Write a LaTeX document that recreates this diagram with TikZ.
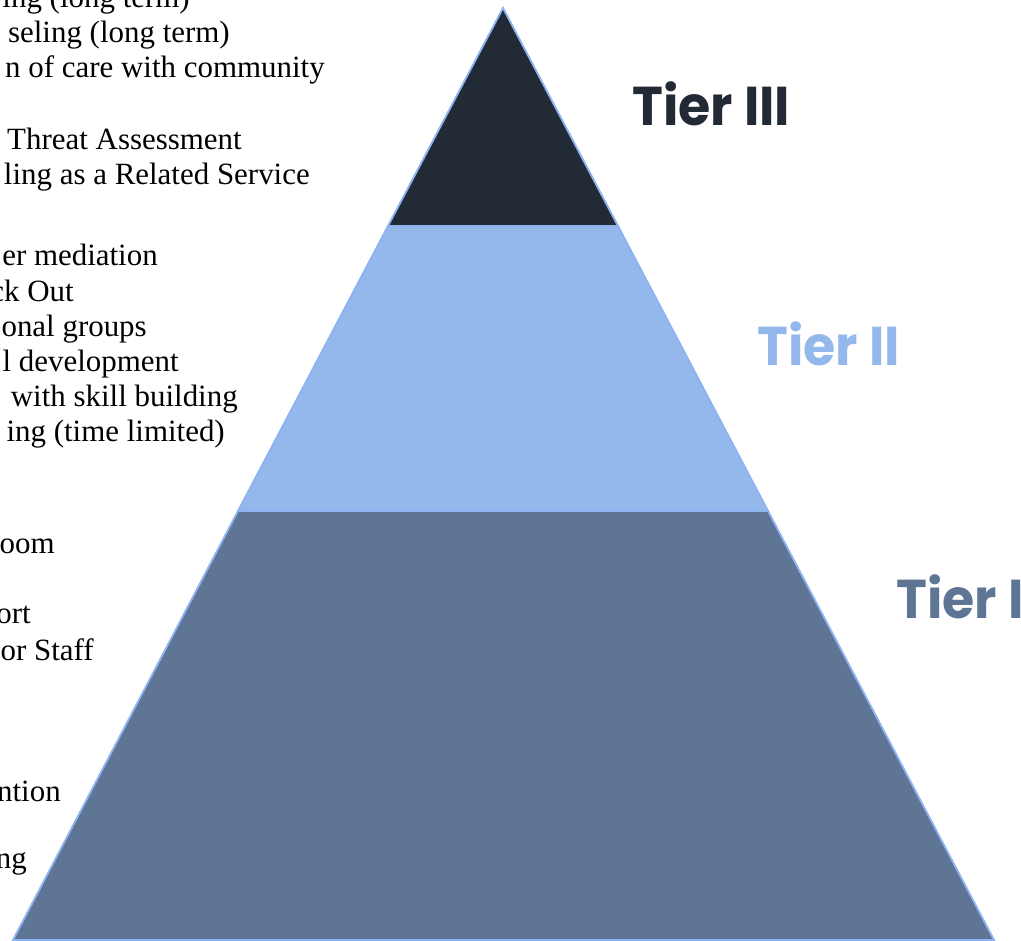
\documentclass[tikz,border=0pt]{standalone}
\usepackage{fontspec}
\setmainfont{Liberation Serif}
\newfontfamily\tierfont{Poppins}[UprightFont=* Bold, FakeStretch=0.955]
\definecolor{tierthree}{HTML}{222A35}
\definecolor{tiertwo}{HTML}{95B8EC}
\definecolor{tierone}{HTML}{5F7595}
\definecolor{edgeblue}{HTML}{8DB3F0}
\begin{document}
\begin{tikzpicture}[x=0.75pt,y=-0.75pt,
  layer/.style={fill=#1,draw=edgeblue,line width=1.4pt,line join=miter},
  item/.style={anchor=base east,inner sep=0pt,font=\fontsize{23.2}{26}\selectfont},
  tier/.style={anchor=base west,inner sep=0pt,text=#1,font=\tierfont\fontsize{41}{44}\selectfont}]
\useasboundingbox (0,0) rectangle (1021,941);

% service list, running off the left edge
\begin{scope}
\clip (0,0) rectangle (1021,941);
\node[item] (l1)  at (190,8)   {ing (long term)};
\node[item] (l2)  at (230,43)  {seling (long term)};
\node[item] (l3)  at (325,78)  {n of care with community};
\node[item] (l4)  at (242,150) {Threat Assessment};
\node[item] (l5)  at (310,185) {ling as a Related Service};
\node[item] (l6)  at (158,266) {er mediation};
\node[item] (l7)  at (74,301)  {ck Out};
\node[item] (l8)  at (147,336) {onal groups};
\node[item] (l9)  at (179,371) {l development};
\node[item] (l10) at (238,406) {with skill building};
\node[item] (l11) at (225,441) {ing (time limited)};
\node[item] (l12) at (55,553)  {oom};
\node[item] (l13) at (31,623)  {ort};
\node[item] (l14) at (94,660)  {or Staff};
\node[item] (l15) at (61,801)  {ntion};
\node[item] (l16) at (27,868)  {ng};
\end{scope}

% pyramid corners and tier boundaries
\coordinate (apex) at (503,8);
\coordinate (bl) at (13,940);
\coordinate (br) at (994,940);
\coordinate (m1l) at (388,226);
\coordinate (m1r) at (618,226);
\coordinate (m2l) at (238,511);
\coordinate (m2r) at (768,511);

\draw[layer=tierone] (m2l) -- (m2r) -- (br) -- (bl) -- cycle;
\draw[layer=tiertwo] (m1l) -- (m1r) -- (m2r) -- (m2l) -- cycle;
\draw[layer=tierthree] (apex) -- (m1r) -- (m1l) -- cycle;

% tier labels
\node[tier=tierthree] (t3) at (632,126) {Tier III};
\node[tier=tiertwo]   (t2) at (757,365) {Tier II};
\node[tier=tierone]   (t1) at (896,618) {Tier I};
\end{tikzpicture}
\end{document}
